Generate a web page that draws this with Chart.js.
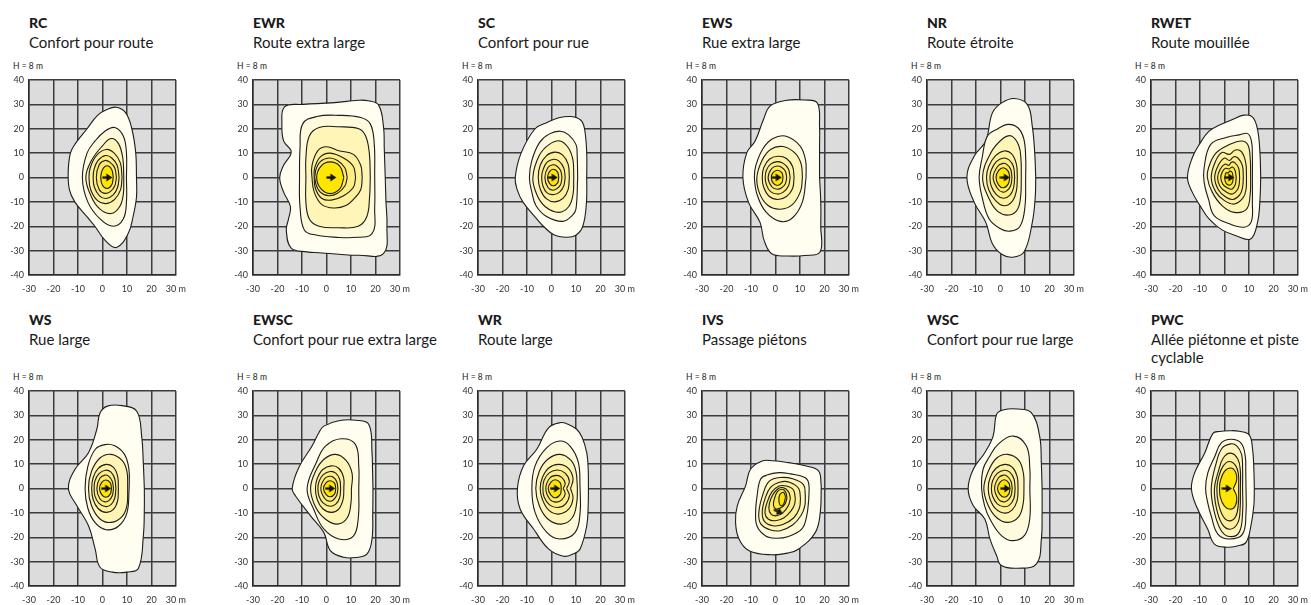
<!DOCTYPE html>
<html>
<head>
<meta charset="utf-8">
<script src="https://cdn.jsdelivr.net/npm/chart.js@4.4.1/dist/chart.umd.min.js"></script>
<style>
  html, body { margin: 0; padding: 0; background: #fff; overflow: hidden; }
  body { width: 1311px; height: 605px; position: relative; font-family: Lato, "DejaVu Sans", sans-serif; color: #1a1a1a; }
  .head { position: absolute; }
  .code { font-weight: 900; font-size: 14px; line-height: 19px; }
  .name { font-size: 15px; line-height: 18px; margin-top: 1px; }
  .hlab { position: absolute; font-size: 8.5px; line-height: 10px; color: #222; }
  canvas { position: absolute; }
</style>
</head>
<body>
<script>
// luminaire types, row by row
const codes = ["RC", "EWR", "SC", "EWS", "NR", "RWET", "WS", "EWSC", "WR", "IVS", "WSC", "PWC"];
const names = ["Confort pour route", "Route extra large", "Confort pour rue", "Rue extra large",
  "Route étroite", "Route mouillée", "Rue large", "Confort pour rue extra large", "Route large",
  "Passage piétons", "Confort pour rue large", "Allée piétonne et piste cyclable"];

const xTicks = [-30, -20, -10, 0, 10, 20, 30];
const xTickLabels = ["-30", "-20", "-10", "0", "10", "20", "30 m"];
const yTicks = [40, 30, 20, 10, 0, -10, -20, -30, -40];
const yTickLabels = ["40", "30", "20", "10", "0", "-10", "-20", "-30", "-40"];

// light position (m) and aim of the arrow (deg)
const arrowX = [2, 2, 0.5, 0.5, 1.8, 2, 1.5, 1.5, 1.5, 1.2, 2, 1];
const arrowY = [0, 0, 0, 0, 0, 0, 0, 0, 0, -9.5, 0, 0];
const arrowTurn = [0, 0, 0, 0, 0, 0, 0, 0, 0, 25, 0, 0];

// isolux lines, outermost first, as x,y pairs in metres
const rcLines = [
  [13.9,0, 13.6,10, 12,20, 9.5,26.5, 5.7,28.8, 2,28, -2,25.5, -6.3,20, -11,14, -13.1,10, -14,2, -13.5,-5, -11.3,-10, -6,-16.5, -3.1,-20, 1,-25.7, 5.7,-28.7, 10.5,-23, 12.5,-16, 13.9,-8],
  [9.8,0, 9.8,10, 8.5,17, 5,20.5, 1,19, -3,15, -6.3,10, -8.2,0, -6,-10, -1,-17, 4.4,-20, 8.5,-17, 9.8,-10],
  [8.7,0, 8.3,8, 6.5,14, 3.5,16, 0,13, -4.5,7, -6.8,0, -4.5,-8, -1,-13, 3.5,-14.8, 7,-12, 8.5,-7],
  [8,0, 7.3,6, 4.8,10, 1.5,11.5, -2.5,9, -5,4, -5.5,0, -4.8,-5, -2,-9.5, 1.5,-10.7, 5,-9, 7.4,-5],
  [6.8,0, 6,5, 3.8,8, 1.3,9, -1.8,7, -3.5,3, -3.8,0, -3.3,-4, -1.2,-7.5, 1.5,-8.6, 4.5,-7, 6.2,-4],
  [5.7,0, 5,4, 3,6.3, 1,7, -1.3,5.3, -2.5,0, -1.3,-5, 1,-6.5, 3.2,-5.8, 5,-3.5],
  [4.4,0, 3.8,3.2, 1.9,4.8, 0,3.2, -0.7,0, 0,-3.2, 1.9,-4.5, 3.8,-3]
];
const ewrLines = [
  [24,0, 23.6,12, 23.3,20.8, 21.3,29.7, 17,31.5, 13.2,31.7, 2,30.6, -9.7,30, -17.1,29, -18.2,22, -17.5,15, -14.4,10.5, -17.5,5, -19.1,0, -17.5,-6, -14.7,-12, -15.5,-17, -16.4,-21.6, -14.4,-29, -8,-30.5, -3,-30.9, 5,-31.5, 13.2,-31.9, 23.3,-31.2, 24.7,-20, 24.3,-10],
  [19.7,0, 19.5,14, 17.9,22, 14,24.6, 5,25.5, -4,25, -9.7,22, -10.8,12, -11,0, -10.8,-12, -9,-21.6, -4.3,-23.6, 5,-24.6, 10.5,-24.6, 18.6,-23, 19.7,-12],
  [17.9,0, 17.5,10, 16,17, 13.2,20, 5,20.8, -3,20.5, -7,17, -8.4,8, -8.4,0, -8.4,-10, -7,-17, -3,-20, 5,-20.6, 13,-20, 16.5,-16, 17.6,-8],
  [14.6,0, 14,5, 11,9.5, 5,11, 0,12.6, -3.5,11, -5.9,5, -5.9,0, -5,-6, -2,-11, 3,-12.5, 8,-11.5, 11,-9, 14,-5],
  [11.9,0, 11,4.5, 7,8, 1.5,10, -2.5,8.5, -4.8,4, -5,0, -4.5,-4.5, -2,-8.5, 2,-9.3, 7,-7.5, 11,-4],
  [8.5,0, 7.5,4, 4.5,7, 1,8, -2.5,6.5, -4.5,2.5, -4.5,-2, -2.5,-6, 1,-7.5, 4.5,-6.5, 7.5,-3.5],
  [7.1,0, 5.5,4.6, 1.5,6.4, -2.3,4.6, -4,0, -2.3,-4.6, 1.5,-6.6, 5.5,-4.6]
];
const scLines = [
  [14.4,0, 14.4,10, 13.5,20, 12,23.5, 8,25, 3,24.5, -2,22.5, -6.7,20, -12.4,10, -14.8,0, -14,-5, -11.7,-10, -6,-17, -3.3,-20, 1,-23.5, 6,-24.5, 9.8,-23.8, 12.8,-20, 14.3,-10],
  [10.7,0, 10.5,9, 10,13.6, 7,17.5, 3.7,19, -1,17.8, -4.9,14.3, -8,7, -9,0, -8,-6, -6.3,-11.6, -2,-16, 4.6,-18, 8.5,-15.5, 10,-13],
  [9.1,0, 8.8,7, 7,12, 3.5,15, -1,13.5, -5,9, -7.6,0, -6,-7, -2.5,-12, 3,-14.3, 7,-12, 8.8,-7],
  [7.3,0, 6.8,5.5, 4.5,9.3, 1.5,10.4, -2,9, -4.6,5, -5.4,0, -4.5,-5, -2,-8.8, 1.5,-10, 4.8,-8.5, 6.8,-5],
  [5.6,0, 5,4, 3,6.8, 1,7.5, -1.8,6.3, -3.5,3, -4,0, -3.5,-3.5, -1.8,-6.3, 1,-7, 3.3,-6, 5,-3.5],
  [4.3,0, 3.7,3, 2,4.8, 0.5,5.2, -1.5,4, -2.7,0, -1.5,-4, 0.5,-5.2, 2.3,-4.5, 3.7,-3],
  [3,0, 2.5,2.2, 0.8,3.4, -0.8,2.4, -1.6,0, -0.8,-2.4, 0.8,-3.4, 2.5,-2.2]
];
const ewsLines = [
  [18,0, 18,12, 18,21, 17.1,30.6, 12,31.8, 4,31.6, -2.2,29.3, -4.9,23.8, -8.3,15, -11.7,10.2, -13.3,0, -11,-10.2, -6.3,-18.4, -4.6,-25.9, -1.5,-31.3, 5,-32.2, 12,-32, 18.2,-30.6, 18.5,-20, 18.5,-10],
  [12.5,0, 12.3,7, 10,13, 4,17, -1,16, -5,12, -8,5, -8.6,0, -7.5,-7, -4,-14, 2,-18, 7,-16.5, 11,-10],
  [11,0, 10.5,5.5, 8,10, 3,12.7, -2,11.5, -5.5,7, -7.6,0, -6.5,-6.5, -3,-11.5, 2,-13, 7,-11, 10.3,-5.5],
  [7.6,0, 7,4.5, 4.5,7.8, 1,8.7, -2.5,7.5, -4.8,4, -5.4,0, -4.8,-4, -2.5,-7.8, 1,-9, 4.5,-7.8, 7,-4.5],
  [6,0, 5.3,3.5, 3.2,5.8, 0.8,6.5, -2,5.5, -3.7,3, -4.2,0, -3.7,-3, -2,-5.8, 0.8,-6.8, 3.2,-6, 5.3,-3.5],
  [4.6,0, 4,2.7, 2.3,4.3, 0.7,4.7, -1.5,3.7, -3,0, -1.5,-3.8, 0.7,-4.8, 2.4,-4.3, 4,-2.7],
  [3.1,0, 2.6,2, 0.8,3, -1,2, -1.7,0, -1,-2.2, 0.8,-3.3, 2.6,-2.1]
];
const nrLines = [
  [14.4,0, 14,10, 13,21, 11,29.9, 5.6,32.4, 0.5,30.6, -3.3,26.5, -6,15, -10.7,8.8, -13.7,0, -10.7,-10.2, -6,-18.4, -3.3,-27.2, 0.5,-31.5, 4.9,-32.7, 9.6,-30.6, 13,-18.4, 14.2,-8],
  [10.3,0, 10.3,8, 9.5,16, 7,20.5, 3,21.8, -1,20, -5.3,17, -7.5,8, -8.7,0, -7.5,-8, -4.6,-17, 0,-21, 4,-22, 8,-20, 10,-12],
  [8.5,0, 8.4,7, 7.5,13, 4.5,17, 1,16, -4,10, -7.3,0, -4.5,-9, -1,-14, 3.5,-15.4, 7,-13, 8.3,-7],
  [6.9,0, 6.5,5.5, 4.5,9.8, 1.5,10.9, -2,9, -4.8,4.5, -5.7,0, -4.8,-5, -2,-9.5, 1.5,-11.6, 4.8,-9.8, 6.5,-5.5],
  [5.8,0, 5.3,4.5, 3.5,7.2, 1.2,8, -1.7,6.5, -3.8,3, -4.3,0, -3.8,-3.5, -1.7,-7, 1.2,-8.5, 3.8,-7.3, 5.3,-4.5],
  [4.7,0, 4.2,3.3, 2.7,5.3, 1,5.8, -1.2,4.5, -3,0, -1.2,-4.5, 1,-6, 2.8,-5.3, 4.2,-3.3],
  [3.8,0, 3.2,2.5, 1.2,4, -0.8,2.8, -1.8,0, -0.8,-3, 1.2,-4.2, 3.2,-2.6]
];
const rwetLines = [
  [14.8,0, 14.5,10, 13.5,19.7, 11.5,24.8, 8,25.6, 3.3,23.8, -2,21.5, -6.3,19, -10,14, -13.1,8.2, -15.1,0, -13.1,-6.1, -10,-11.5, -6.3,-17, -1,-21.5, 5,-24, 10.7,-25.2, 13.5,-18.4, 14.5,-9],
  [11.4,0, 11.4,9, 11,15, 9.5,18, 6,17.5, 1,16.5, -5.6,13.6, -8.3,4, -8.3,-2, -6.5,-9, -4.2,-15.6, 2,-19, 8,-20.4, 11,-18, 11.4,-10],
  [10.7,0, 10.5,8, 9.5,13.5, 7,15, 2,13.5, -3.5,10, -6.5,4, -7,0, -5,-6, -1,-11.5, 4,-14.3, 9,-13, 10.5,-7],
  [9,0, 8.7,6, 7,10.5, 4.5,11.3, 2,9.5, -1,10.3, -3.5,7, -5.4,0, -3.5,-6, 0,-9.5, 4,-10.9, 7.5,-8.5, 8.8,-5],
  [7.7,0, 7.3,5, 5.5,8, 3.8,8.5, 2,7, 0,8, -2.5,5, -4,0, -2.5,-5, 0.5,-8, 3.5,-9, 6.3,-7, 7.4,-4],
  [6.2,0, 5.8,3.8, 4.3,6, 2.8,6.3, 1.8,5, 0.3,5.5, -1.7,3.5, -2.8,0, -1.8,-3.7, 0.8,-6, 3.3,-6.8, 5.3,-5, 6,-2.8],
  [4.8,0, 4.3,3, 3.2,4.3, 1.8,3.5, 0.5,3.8, -0.8,2.5, -1.5,0, -0.7,-2.7, 1.3,-4.3, 3,-4.8, 4.4,-3],
  [3.5,0, 3.2,2, 2.2,2.6, 1.5,1.8, 0.7,2, 0.2,0.5, 0.3,-1.5, 1.3,-3, 2.8,-2.8, 3.4,-1.5]
];
const wsLines = [
  [17.1,0, 16.7,10, 16,21.5, 14,31.7, 8,34, 2,33.8, -1,31, -2.3,24.3, -5.7,14.7, -11.2,7.9, -13.9,0, -10.5,-7, -5.7,-15.3, -3,-24.8, -1,-32.3, 4,-34.3, 10,-34.3, 14.7,-32.7, 16.7,-19.3, 17.1,-8],
  [10.9,0, 10.8,8, 9,14, 5,17.5, 1,18, -3,16, -6,9, -7.1,0, -6,-8, -3,-14, 1.5,-16.9, 6.5,-15.5, 10,-10],
  [10.3,0, 10,7, 8,11.5, 3.5,14, -1,12.5, -4.5,7, -5.7,0, -4.5,-7, -1,-12.5, 3.5,-13.9, 8,-11.5, 10,-7],
  [6.5,0, 6.2,5, 4.5,8.7, 1.5,9.9, -1.8,8.2, -3.8,4.5, -4.4,0, -3.8,-4.5, -1.8,-8.2, 1.5,-9.8, 4.5,-8.6, 6.2,-5],
  [5.5,0, 5,4, 3.5,6.7, 1.2,7.5, -1.5,6, -3.1,3, -3.4,0, -3.1,-3, -1.5,-6, 1.2,-7.4, 3.5,-6.6, 5,-4],
  [4.5,0, 4,3, 2.6,5, 1,5.5, -1,4.3, -2.3,0, -1,-4.3, 1,-5.5, 2.6,-5, 4,-3],
  [3.7,0, 3.2,2.3, 1.4,3.5, -0.3,2.5, -1.2,0, -0.3,-2.5, 1.4,-3.6, 3.2,-2.3]
];
const ewscLines = [
  [19,0, 18.8,8, 18.6,14.7, 17.3,26.3, 12,28, 5,27.8, -1.1,25.6, -3.1,22.9, -5.9,17.4, -11.3,8.6, -14,0, -12.7,-3, -6.5,-11.2, -1.1,-18, 1.6,-25.5, 7,-28.2, 12,-28.3, 16.6,-26.8, 18.6,-20.7, 18.9,-10],
  [13.2,0, 13.2,9, 11.8,18.1, 6,20.4, -0.4,17.4, -4,11, -7.9,0, -5,-9, -1.1,-16.6, 5,-20.7, 11,-19.5, 13,-12],
  [10.2,0, 10.5,6, 8,11.5, 3.7,14, -1,12, -4.5,7, -6.5,0, -4.5,-7.5, -0.5,-12.5, 4.5,-14.6, 8.5,-12, 10,-6],
  [7.1,0, 7,4.5, 5,8.3, 2,9.3, -1.5,7.8, -3.8,4, -4.5,0, -3.8,-4.5, -1.5,-8.3, 2,-9.8, 5,-8.5, 6.8,-4.5],
  [5.8,0, 5.4,3.8, 3.8,6.3, 1.5,7, -1.3,5.7, -3,3, -3.5,0, -3,-3.3, -1.3,-6, 1.5,-7.3, 3.8,-6.4, 5.4,-3.8],
  [4.7,0, 4.2,2.8, 2.8,4.6, 1.2,5, -0.8,4, -2.3,0, -0.8,-4, 1.2,-5.2, 2.8,-4.7, 4.2,-2.8],
  [3.8,0, 3.3,2.2, 1.5,3.2, -0.2,2.3, -1.2,0, -0.2,-2.4, 1.5,-3.4, 3.3,-2.3]
];
const wrLines = [
  [15.1,0, 15,8, 14.4,14.7, 12.5,21, 10.3,24.3, 6.5,26.5, 3.5,27, -1.2,24.9, -6,16.1, -11.4,9.3, -13.9,0, -12.8,-8.4, -7.3,-16.6, -1.2,-24.8, 4.9,-27.8, 9,-26.8, 11.7,-24.8, 14.4,-15.3, 15,-7],
  [11.7,0, 11,10.6, 7.6,17.4, 3.5,19.5, -1.9,16.8, -6.7,9.3, -8,0, -6.7,-9.8, -1.9,-18, 3.5,-20.7, 9.7,-18, 11.7,-9.8],
  [10.6,0, 10,7, 8,11.5, 3.5,14, -1.5,12, -5,7, -6.4,0, -5,-7, -1.5,-12.5, 4,-14.6, 8.5,-12, 10.3,-6],
  [7.8,0, 8.8,4, 7,8.2, 3,9.9, -1,8.5, -3.7,4.5, -4.6,0, -3.7,-4.5, -1,-9, 3,-10.5, 7,-8.5, 8.8,-4],
  [6.2,0, 7.3,3, 5.6,6.3, 2.5,7.6, -0.8,6.5, -3,3.5, -3.5,0, -3,-3.5, -0.8,-6.7, 2.5,-7.8, 5.6,-6.5, 7.3,-3],
  [4.8,0, 5.6,2.2, 4.2,4.6, 2,5.4, -0.6,4.4, -2.3,0, -0.6,-4.5, 2,-5.6, 4.2,-4.7, 5.6,-2.2],
  [4,0, 3.6,2.3, 1.6,3.6, -0.3,2.5, -1.3,0, -0.3,-2.6, 1.6,-3.8, 3.6,-2.4]
];
const ivsLines = [
  [18.7,1, 17.6,7.2, 12.2,9.3, 5.4,10.6, -1,11.4, -5.4,11.3, -10.2,7.9, -12.2,1.1, -15.6,-7.1, -16.3,-13.9, -14.9,-20.7, -10.8,-25.5, -1.4,-27.2, 5,-26.5, 9.5,-24.8, 16.3,-18, 18.3,-9.8],
  [13.6,-4.4, 13.6,2, 12,4.5, 6,6, 1.4,6.5, -3.5,5.5, -6.1,3.8, -7.5,-3, -8.1,-9.8, -7.5,-15.5, -4,-19.5, 0,-20.4, 5,-19.8, 10.8,-16.6, 12.8,-11],
  [12.2,-3, 11.5,1.5, 7,4, 2,4.5, -2.5,3, -5,-2, -6.8,-9.8, -6,-14.5, -2,-17, 2,-17.3, 7,-15, 10.5,-11, 12,-7],
  [10.2,-4, 9.5,0, 6,2.5, 2,2.7, -2,0.5, -4.2,-4, -5.4,-9.5, -4.5,-13.5, -1,-15.3, 3,-14.8, 7.5,-12, 9.8,-8],
  [8.1,-4, 7.3,-0.5, 4.5,1, 1.5,1, -1.5,-1.5, -3.5,-6, -4.3,-10, -3,-12.5, 0,-13.2, 3.5,-12, 6.5,-9, 7.8,-6.5],
  [6.1,-4, 5.3,-1.3, 3,0.4, 0.5,-0.5, -1.8,-4, -2.7,-8, -1.8,-10.5, 0.5,-11.2, 3,-10, 5.3,-7],
  [4.7,-4, 4.2,-1.5, 2.8,-0.3, 0.8,-1.3, -0.5,-4.5, -0.8,-7, 0.3,-8.4, 2,-8, 3.8,-6.5],
  [4.1,-3.5, 3.6,-1.9, 2.8,-1.6, 1.8,-2.5, 1.4,-4.5, 1.7,-6.5, 2.4,-7.1, 3.4,-6.3]
];
const wscLines = [
  [17,0, 16.7,10, 16,21.5, 12.6,31.1, 7,32.6, 1,32.2, -1.6,30.4, -3,21.5, -6.4,14.7, -11.1,7.9, -13.2,0, -11.1,-7.1, -6.4,-12.5, -4.3,-20.7, -1.6,-27.5, 0.4,-31.6, 7.2,-32.7, 14.7,-30.9, 16.7,-20.7, 17,-10],
  [12,0, 12,8, 10.6,17.4, 5.2,21.5, -1,18.1, -4.5,13, -7.1,7.9, -7.7,0, -6.5,-7, -4.3,-12.5, 0.4,-19.3, 5.2,-21.4, 10,-19, 12,-12],
  [9.6,0, 9.4,6, 7.5,11.5, 3,14, -1.5,12.5, -5,7, -6.8,0, -5,-7, -1.5,-12, 3,-13.9, 7.5,-11.5, 9.3,-6],
  [7.2,0, 6.8,5, 4.8,8.8, 1.8,9.9, -1.8,8.3, -4.2,4.5, -5,0, -4.2,-4.5, -1.8,-8.5, 1.8,-10.1, 4.8,-8.8, 6.8,-5],
  [6,0, 5.5,4, 3.8,6.7, 1.5,7.5, -1.3,6.2, -3.2,3.2, -3.7,0, -3.2,-3.2, -1.3,-6.3, 1.5,-7.5, 3.8,-6.7, 5.5,-4],
  [4.8,0, 4.3,3, 2.8,5, 1.2,5.5, -0.8,4.4, -2.4,0, -0.8,-4.4, 1.2,-5.5, 2.8,-5, 4.3,-3],
  [3.9,0, 3.4,2.3, 1.6,3.6, -0.2,2.5, -1.2,0, -0.2,-2.5, 1.6,-3.6, 3.4,-2.3]
];
const pwcLines = [
  [12.2,0, 12,8, 11.5,15.9, 10.1,22, 6,23.5, 2,23.7, -2,23.4, -4.7,22.6, -8.1,14.5, -12.2,6.4, -13.5,0, -11.5,-7.2, -6.8,-16.7, -4.1,-22.8, 1,-24.1, 5.5,-23.5, 8.8,-22.1, 10.8,-15.3, 12,-7],
  [8.8,0, 8.7,7, 8.5,13.2, 6.8,18.6, 2.7,20.2, -1.4,18.6, -4,13, -6.8,6.4, -7.7,0, -6.8,-6, -5.4,-11.3, -2.7,-18.7, 2,-20.7, 7.4,-18.7, 8.8,-10],
  [7.4,0, 7.4,8, 7,14, 5,17.5, 2.5,18.3, -1,16.5, -3.5,10, -5.4,0, -4.3,-9, -1.5,-17, 2,-19.7, 6,-18, 7.4,-10],
  [6.5,0, 6.5,7, 5.5,12, 2.5,14.5, -0.5,12.5, -2.5,7, -4.1,0, -3.3,-8, -1,-14.5, 2.3,-16.7, 5.5,-14, 6.4,-8],
  [5.8,0, 5.7,6, 4.5,9.5, 2,11.1, -0.5,9.3, -2.3,5, -3.1,0, -2.5,-6, -0.5,-11.5, 2,-13.3, 4.6,-11.5, 5.7,-6],
  [3.6,0, 5,3.5, 4.5,6.8, 2.5,8.4, 0,7, -1.7,3, -2,0, -1.7,-3.5, 0,-7.2, 2.5,-8.5, 4.5,-7, 5,-3.5]
];

const allLines = [rcLines, ewrLines, scLines, ewsLines, nrLines, rwetLines,
  wsLines, ewscLines, wrLines, ivsLines, wscLines, pwcLines];

// fill shades from the outer line inwards
const ringColors = ["#fffef1", "#fffadb", "#fff5b6", "#fff19c", "#ffee84", "#ffeb68", "#ffe948", "#ffe62a"];
const coreColor = "#ffe600";

// page layout
const colLeft = [29, 253, 478, 702, 927, 1151];
const rowPlotTop = [80, 391];
const rowHeadTop = [13, 310];
const plotW = 147, plotH = 195;
const padL = 28, padT = 5, padR = 18, padB = 22;

const arrowImg = document.createElement("canvas");
arrowImg.width = 11;
arrowImg.height = 9;
(function () {
  const g = arrowImg.getContext("2d");
  g.fillStyle = "#141414";
  g.fillRect(0.5, 3.4, 5.5, 2.3);
  g.beginPath();
  g.moveTo(4.5, 0.5);
  g.lineTo(10.5, 4.5);
  g.lineTo(4.5, 8.5);
  g.closePath();
  g.fill();
})();

const plotBg = {
  id: "plotBg",
  beforeDraw(chart) {
    const a = chart.chartArea;
    const ctx = chart.ctx;
    ctx.save();
    ctx.fillStyle = "#dcdcdd";
    ctx.fillRect(a.left, a.top, a.right - a.left, a.bottom - a.top);
    ctx.restore();
  }
};

function toPoints(flat) {
  const pts = [];
  for (let i = 0; i < flat.length; i += 2) pts.push({ x: flat[i], y: flat[i + 1] });
  pts.push({ x: flat[0], y: flat[1] });
  return pts;
}

codes.forEach(function (code, i) {
  const col = i % 6, row = Math.floor(i / 6);
  const left = colLeft[col];
  const top = rowPlotTop[row];

  const head = document.createElement("div");
  head.className = "head";
  head.style.left = left + "px";
  head.style.top = rowHeadTop[row] + "px";
  head.style.width = Math.min(215, 1311 - left - 4) + "px";
  head.innerHTML = '<div class="code"></div><div class="name"></div>';
  head.children[0].textContent = code;
  head.children[1].textContent = names[i];
  document.body.appendChild(head);

  const h = document.createElement("div");
  h.className = "hlab";
  h.style.left = (left - 16) + "px";
  h.style.top = (top - 19) + "px";
  h.textContent = "H = 8 m";
  document.body.appendChild(h);

  const cv = document.createElement("canvas");
  const w0 = padL + plotW + padR, h0 = padT + plotH + padB;
  cv.width = w0;
  cv.height = h0;
  cv.style.width = w0 + "px";
  cv.style.height = h0 + "px";
  cv.style.left = (left - padL) + "px";
  cv.style.top = (top - padT) + "px";
  document.body.appendChild(cv);

  const lines = allLines[i];
  const datasets = [{
    data: [{ x: arrowX[i], y: arrowY[i] }],
    pointStyle: arrowImg,
    rotation: arrowTurn[i],
    pointRadius: 4,
    showLine: false
  }];
  for (let k = lines.length - 1; k >= 0; k--) {
    datasets.push({
      data: toPoints(lines[k]),
      showLine: true,
      fill: "shape",
      backgroundColor: k === lines.length - 1 ? coreColor : ringColors[Math.min(k, ringColors.length - 1)],
      borderColor: "#1c1c1c",
      borderWidth: 1.1,
      pointRadius: 0,
      tension: 0.4
    });
  }

  const tickFont = { family: "Lato, 'DejaVu Sans', sans-serif", size: 9, lineHeight: 10 / 9 };
  const chart = new Chart(cv.getContext("2d"), {
    type: "scatter",
    data: { datasets: datasets },
    options: {
      responsive: false,
      maintainAspectRatio: false,
      animation: false,
      events: [],
      layout: { padding: { top: 0, right: padR, left: 0, bottom: 0 } },
      plugins: { legend: { display: false }, tooltip: { enabled: false } },
      scales: {
        x: {
          type: "linear", min: -30, max: 30,
          afterFit: function (s) { s.height = padB; },
          grid: { color: "#3c3c3c", lineWidth: 1.5, drawTicks: false },
          border: { color: "#2a2a2a", width: 1.5 },
          ticks: {
            stepSize: 10, padding: 9, color: "#333", font: tickFont,
            maxRotation: 0, autoSkip: false,
            callback: function (v) { const j = xTicks.indexOf(v); return j < 0 ? "" : xTickLabels[j]; }
          }
        },
        y: {
          type: "linear", min: -40, max: 40,
          afterFit: function (s) { s.width = padL; },
          grid: { color: "#3c3c3c", lineWidth: 1.5, drawTicks: false },
          border: { color: "#2a2a2a", width: 1.5 },
          ticks: {
            stepSize: 10, padding: 5, color: "#333", font: tickFont, autoSkip: false,
            callback: function (v) { const j = yTicks.indexOf(v); return j < 0 ? "" : yTickLabels[j]; }
          }
        }
      }
    },
    plugins: [plotBg]
  });

  // grow the canvas until the plot box has the wanted size, then line it up
  const a = chart.chartArea;
  const dw = plotW - (a.right - a.left);
  const dh = plotH - (a.bottom - a.top);
  if (Math.abs(dw) > 0.2 || Math.abs(dh) > 0.2) {
    chart.resize(Math.round(w0 + dw), Math.round(h0 + dh));
  }
  const b = chart.chartArea;
  cv.style.left = Math.round(left - b.left) + "px";
  cv.style.top = Math.round(top - b.top) + "px";
});
</script>
</body>
</html>
